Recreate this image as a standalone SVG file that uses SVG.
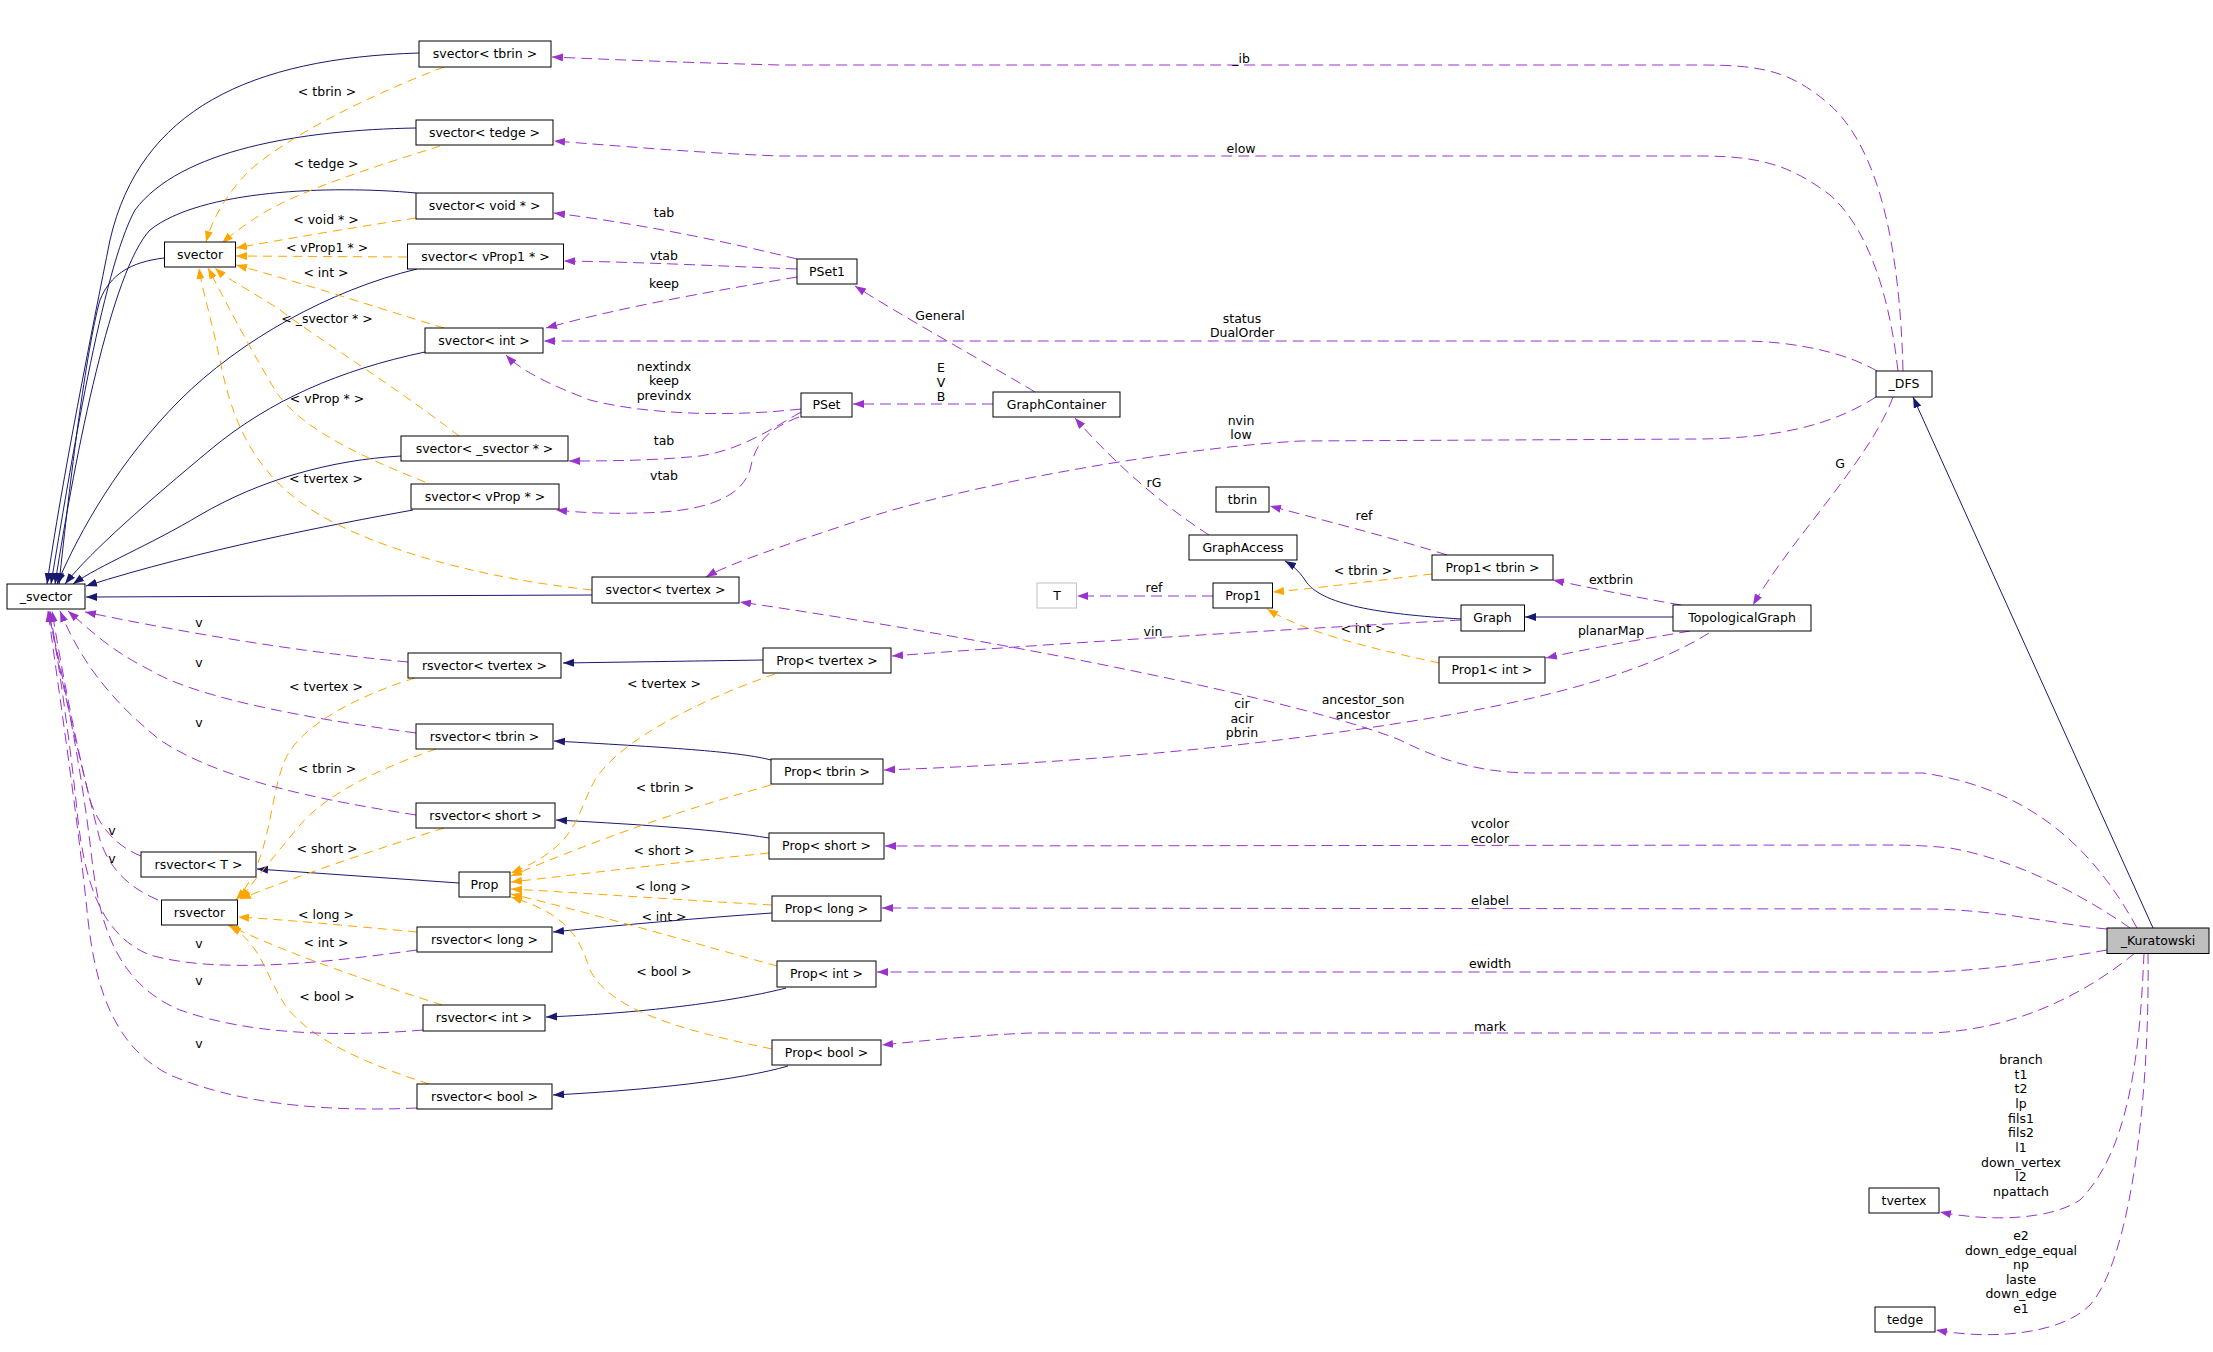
<svg xmlns="http://www.w3.org/2000/svg" width="2213" height="1352" viewBox="0 0 2213 1352">
<style>
.n rect{fill:#fff;stroke:#000;stroke-width:1}
.g rect{fill:#fff;stroke:#bfbfbf;stroke-width:1}
.k rect{fill:#bfbfbf;stroke:#000;stroke-width:1}
text{font-family:"DejaVu Sans",sans-serif;font-size:12.5px;fill:#000;text-anchor:middle}
.inh{fill:none;stroke:#191970;stroke-width:1;marker-end:url(#ab)}
.tpl{fill:none;stroke:#ffa500;stroke-width:1;stroke-dasharray:9,6;marker-end:url(#ao)}
.use{fill:none;stroke:#9a32cd;stroke-width:1;stroke-dasharray:11,6;marker-end:url(#ap)}
</style>
<defs>
<marker id="ab" markerUnits="userSpaceOnUse" markerWidth="12" markerHeight="9" refX="11" refY="4" orient="auto"><path d="M0,0 L11,4 L0,8 z" fill="#191970"/></marker>
<marker id="ao" markerUnits="userSpaceOnUse" markerWidth="12" markerHeight="9" refX="11" refY="4" orient="auto"><path d="M0,0 L11,4 L0,8 z" fill="#ffa500"/></marker>
<marker id="ap" markerUnits="userSpaceOnUse" markerWidth="12" markerHeight="9" refX="11" refY="4" orient="auto"><path d="M0,0 L11,4 L0,8 z" fill="#9a32cd"/></marker>
</defs>
<rect x="0" y="0" width="2213" height="1352" fill="#fff"/>
<g id="edges">
<path class="inh" d="M419,53 C250,58 140,110 110,240 C92,330 62,480 47,584"/>
<path class="inh" d="M416,128 C300,130 180,150 135,210 C102,270 70,470 51,584"/>
<path class="inh" d="M416,193 C330,185 200,190 150,230 C112,270 76,450 55,584"/>
<path class="inh" d="M164,258 C130,262 110,275 100,300 C86,350 70,480 59,584"/>
<path class="inh" d="M417,269 C330,290 240,340 180,400 C120,460 80,530 57,584"/>
<path class="inh" d="M425,352 C340,370 270,400 210,450 C150,500 92,550 65,584"/>
<path class="inh" d="M401,456 C330,460 260,480 200,515 C150,545 100,565 73,584"/>
<path class="inh" d="M413,510 C330,525 200,550 86,586"/>
<path class="inh" d="M592,595 L86,597"/>
<path class="inh" d="M763,660 L563,663"/>
<path class="inh" d="M771,760 C740,752 680,748 554,741"/>
<path class="inh" d="M769,838 C720,830 650,825 556,820"/>
<path class="inh" d="M772,913 C700,918 620,925 553,932"/>
<path class="inh" d="M786,988 C740,1000 650,1013 546,1017"/>
<path class="inh" d="M788,1066 C740,1080 650,1090 553,1095"/>
<path class="inh" d="M459,883 L257,869"/>
<path class="inh" d="M1461,619 C1380,614 1320,605 1305,580 C1299,571 1292,565 1285,561"/>
<path class="inh" d="M1673,617 L1525,617"/>
<path class="inh" d="M2153,928 L1913,397"/>
<path class="tpl" d="M444,67 C370,95 290,135 250,170 C225,195 212,220 206,242"/>
<path class="tpl" d="M440,146 C380,165 300,190 260,215 C240,228 230,236 222,243"/>
<path class="tpl" d="M416,218 C350,228 280,240 236,248"/>
<path class="tpl" d="M407,257 L236,256"/>
<path class="tpl" d="M444,328 C400,315 310,285 236,265"/>
<path class="tpl" d="M459,436 C400,390 320,340 280,310 C250,290 228,280 215,268"/>
<path class="tpl" d="M425,482 C370,460 300,430 275,390 C245,340 225,300 208,268"/>
<path class="tpl" d="M592,590 C480,578 380,550 320,515 C260,480 235,430 222,370 C212,320 202,290 199,268"/>
<path class="tpl" d="M415,678 C360,695 300,725 285,760 C268,800 272,860 236,900"/>
<path class="tpl" d="M436,749 C390,765 330,790 300,825 C275,855 255,880 240,899"/>
<path class="tpl" d="M444,828 C380,848 300,875 240,899"/>
<path class="tpl" d="M417,932 C350,926 290,920 238,917"/>
<path class="tpl" d="M442,1005 C380,985 290,955 228,925"/>
<path class="tpl" d="M429,1084 C370,1065 310,1040 285,1005 C265,975 262,945 230,926"/>
<path class="tpl" d="M775,674 C700,700 620,740 595,780 C575,815 580,845 511,873"/>
<path class="tpl" d="M771,785 C700,805 620,830 511,876"/>
<path class="tpl" d="M769,853 C680,862 600,872 511,882"/>
<path class="tpl" d="M772,905 C680,900 600,894 511,889"/>
<path class="tpl" d="M777,966 C700,945 600,915 511,894"/>
<path class="tpl" d="M772,1049 C680,1030 610,1010 590,970 C580,940 570,915 511,897"/>
<path class="tpl" d="M1432,574 C1380,580 1320,588 1273,592"/>
<path class="tpl" d="M1439,663 C1380,650 1310,635 1267,609"/>
<path class="use" d="M1903,371 C1900,250 1880,150 1830,105 C1790,70 1760,65 1700,65 L780,65 C700,63 620,60 552,57"/>
<path class="use" d="M1898,371 C1890,300 1870,230 1830,195 C1790,165 1760,156 1700,156 L780,156 C700,153 620,146 554,141"/>
<path class="use" d="M1877,371 C1850,355 1800,341 1740,341 L544,341"/>
<path class="use" d="M1876,397 C1840,420 1790,438 1700,439 L1300,441 C1150,450 950,490 860,520 C800,540 730,563 706,577"/>
<path class="use" d="M1893,397 C1870,460 1790,540 1753,605"/>
<path class="use" d="M797,259 C740,245 650,225 554,213"/>
<path class="use" d="M797,269 C720,266 640,262 564,261"/>
<path class="use" d="M797,277 C720,290 630,305 546,328"/>
<path class="use" d="M801,409 C720,418 640,413 590,400 C550,385 520,370 506,355"/>
<path class="use" d="M801,412 C770,430 740,450 700,456 C650,461 600,461 569,461"/>
<path class="use" d="M799,417 C765,430 755,445 750,470 C740,500 700,512 640,513 C600,514 575,512 556,510"/>
<path class="use" d="M1035,392 C990,365 900,315 855,286"/>
<path class="use" d="M993,404 L853,404"/>
<path class="use" d="M1209,535 C1170,510 1120,470 1075,418"/>
<path class="use" d="M1447,555 C1400,540 1330,522 1270,506"/>
<path class="use" d="M1213,596 L1077,596"/>
<path class="use" d="M1681,605 C1640,598 1600,590 1553,580"/>
<path class="use" d="M1690,631 C1650,638 1600,646 1546,658"/>
<path class="use" d="M1461,620 C1350,626 1100,640 892,656"/>
<path class="use" d="M1709,633 C1650,670 1550,700 1400,723 C1200,755 1000,766 884,770"/>
<path class="use" d="M2137,928 C2100,860 2040,790 1923,773 L1533,773 C1480,773 1440,760 1400,740 C1300,700 1000,640 740,602"/>
<path class="use" d="M2130,928 C2090,900 2020,860 1950,848 C1920,845 1900,845 1880,845 L885,846"/>
<path class="use" d="M2107,929 C2060,925 2000,910 1930,909 L882,908"/>
<path class="use" d="M2107,950 C2060,958 2000,970 1930,972 L877,972"/>
<path class="use" d="M2135,953 C2090,990 2020,1030 1930,1033 L1030,1033 C980,1035 930,1040 882,1045"/>
<path class="use" d="M2144,953 C2140,1050 2130,1150 2080,1200 C2050,1220 1990,1222 1940,1212"/>
<path class="use" d="M2148,953 C2150,1100 2130,1260 2090,1305 C2060,1335 1990,1340 1936,1330"/>
<path class="use" d="M408,662 C330,655 220,640 85,612"/>
<path class="use" d="M416,733 C320,720 200,700 150,670 C110,650 90,630 68,611"/>
<path class="use" d="M416,815 C320,800 220,780 160,740 C110,700 80,660 60,611"/>
<path class="use" d="M141,856 C120,848 100,830 90,800 C75,740 60,660 52,611"/>
<path class="use" d="M158,900 C130,888 110,870 100,840 C85,780 60,680 49,611"/>
<path class="use" d="M417,950 C330,962 220,975 150,955 C100,935 85,880 78,820 C70,740 58,660 50,611"/>
<path class="use" d="M423,1030 C340,1037 250,1035 180,1010 C120,985 100,930 92,860 C82,770 62,670 48,611"/>
<path class="use" d="M417,1108 C330,1112 240,1105 170,1075 C110,1045 95,980 88,920 C78,820 60,700 48,611"/>
</g>
<g id="edge-labels">
<text x="327" y="96">&lt; tbrin &gt;</text>
<text x="326" y="168">&lt; tedge &gt;</text>
<text x="326" y="224">&lt; void * &gt;</text>
<text x="327" y="252">&lt; vProp1 * &gt;</text>
<text x="326" y="277">&lt; int &gt;</text>
<text x="327" y="323">&lt; _svector * &gt;</text>
<text x="327" y="403">&lt; vProp * &gt;</text>
<text x="326" y="483">&lt; tvertex &gt;</text>
<text x="326" y="691">&lt; tvertex &gt;</text>
<text x="327" y="773">&lt; tbrin &gt;</text>
<text x="327" y="853">&lt; short &gt;</text>
<text x="326" y="919">&lt; long &gt;</text>
<text x="326" y="947">&lt; int &gt;</text>
<text x="327" y="1001">&lt; bool &gt;</text>
<text x="664" y="688">&lt; tvertex &gt;</text>
<text x="665" y="792">&lt; tbrin &gt;</text>
<text x="664" y="855">&lt; short &gt;</text>
<text x="663" y="891">&lt; long &gt;</text>
<text x="664" y="921">&lt; int &gt;</text>
<text x="664" y="976">&lt; bool &gt;</text>
<text x="1363" y="575">&lt; tbrin &gt;</text>
<text x="1363" y="633">&lt; int &gt;</text>
<text x="1241" y="63">_ib</text>
<text x="1241" y="153">elow</text>
<text x="1242" y="323">status</text>
<text x="1242" y="337">DualOrder</text>
<text x="1241" y="425">nvin</text>
<text x="1241" y="439">low</text>
<text x="1840" y="468">G</text>
<text x="664" y="217">tab</text>
<text x="664" y="260">vtab</text>
<text x="664" y="288">keep</text>
<text x="664" y="371">nextindx</text>
<text x="664" y="385">keep</text>
<text x="664" y="400">previndx</text>
<text x="664" y="445">tab</text>
<text x="664" y="480">vtab</text>
<text x="940" y="320">General</text>
<text x="941" y="372">E</text>
<text x="941" y="387">V</text>
<text x="941" y="401">B</text>
<text x="1154" y="487">rG</text>
<text x="1364" y="520">ref</text>
<text x="1154" y="592">ref</text>
<text x="1611" y="584">extbrin</text>
<text x="1611" y="635">planarMap</text>
<text x="1153" y="636">vin</text>
<text x="1242" y="708">cir</text>
<text x="1242" y="723">acir</text>
<text x="1242" y="737">pbrin</text>
<text x="1363" y="704">ancestor_son</text>
<text x="1363" y="719">ancestor</text>
<text x="1490" y="828">vcolor</text>
<text x="1490" y="843">ecolor</text>
<text x="1490" y="905">elabel</text>
<text x="1490" y="968">ewidth</text>
<text x="1490" y="1031">mark</text>
<text x="2021" y="1064">branch</text>
<text x="2021" y="1079">t1</text>
<text x="2021" y="1093">t2</text>
<text x="2021" y="1108">lp</text>
<text x="2021" y="1123">fils1</text>
<text x="2021" y="1137">fils2</text>
<text x="2021" y="1152">l1</text>
<text x="2021" y="1167">down_vertex</text>
<text x="2021" y="1181">l2</text>
<text x="2021" y="1196">npattach</text>
<text x="2021" y="1240">e2</text>
<text x="2021" y="1255">down_edge_equal</text>
<text x="2021" y="1269">np</text>
<text x="2021" y="1284">laste</text>
<text x="2021" y="1298">down_edge</text>
<text x="2021" y="1313">e1</text>
<text x="199" y="627">v</text>
<text x="199" y="667">v</text>
<text x="199" y="727">v</text>
<text x="112" y="835">v</text>
<text x="112" y="863">v</text>
<text x="199" y="948">v</text>
<text x="199" y="985">v</text>
<text x="199" y="1048">v</text>
</g>
<g id="n-svector-tbrin" class="n"><rect x="419" y="41" width="132" height="26"/><text x="485" y="58">svector&lt; tbrin &gt;</text></g>
<g id="n-svector-tedge" class="n"><rect x="416" y="120" width="137" height="25"/><text x="484.5" y="136.5">svector&lt; tedge &gt;</text></g>
<g id="n-svector-void" class="n"><rect x="416" y="193" width="137" height="26"/><text x="484.5" y="210">svector&lt; void * &gt;</text></g>
<g id="n-svector" class="n"><rect x="164.5" y="242" width="71" height="25"/><text x="200" y="258.5">svector</text></g>
<g id="n-svector-vProp1" class="n"><rect x="407.5" y="244" width="156" height="25"/><text x="485.5" y="260.5">svector&lt; vProp1 * &gt;</text></g>
<g id="n-svector-int" class="n"><rect x="425" y="328" width="118" height="25"/><text x="484" y="344.5">svector&lt; int &gt;</text></g>
<g id="n-svector-svector" class="n"><rect x="401" y="436" width="167" height="25"/><text x="484.5" y="452.5">svector&lt; _svector * &gt;</text></g>
<g id="n-svector-vProp" class="n"><rect x="411" y="484" width="148" height="25"/><text x="485" y="500.5">svector&lt; vProp * &gt;</text></g>
<g id="n-_svector" class="n"><rect x="7" y="584" width="78" height="25"/><text x="46" y="600.5">_svector</text></g>
<g id="n-svector-tvertex" class="n"><rect x="592" y="577" width="147" height="26"/><text x="665.5" y="594">svector&lt; tvertex &gt;</text></g>
<g id="n-rsvector-tvertex" class="n"><rect x="408" y="653" width="153" height="25"/><text x="484.5" y="669.5">rsvector&lt; tvertex &gt;</text></g>
<g id="n-rsvector-tbrin" class="n"><rect x="416" y="724" width="137" height="25"/><text x="484.5" y="740.5">rsvector&lt; tbrin &gt;</text></g>
<g id="n-rsvector-short" class="n"><rect x="416" y="803" width="139" height="25"/><text x="485.5" y="819.5">rsvector&lt; short &gt;</text></g>
<g id="n-rsvector-T" class="n"><rect x="141" y="852" width="115" height="25"/><text x="198.5" y="868.5">rsvector&lt; T &gt;</text></g>
<g id="n-Prop" class="n"><rect x="459" y="872" width="51" height="25"/><text x="484.5" y="888.5">Prop</text></g>
<g id="n-rsvector" class="n"><rect x="161.5" y="900" width="76" height="25"/><text x="199.5" y="916.5">rsvector</text></g>
<g id="n-rsvector-long" class="n"><rect x="417" y="927" width="135" height="25"/><text x="484.5" y="943.5">rsvector&lt; long &gt;</text></g>
<g id="n-rsvector-int" class="n"><rect x="423" y="1005" width="122" height="26"/><text x="484" y="1022">rsvector&lt; int &gt;</text></g>
<g id="n-rsvector-bool" class="n"><rect x="417" y="1084" width="135" height="25"/><text x="484.5" y="1100.5">rsvector&lt; bool &gt;</text></g>
<g id="n-PSet1" class="n"><rect x="797" y="259" width="60" height="25"/><text x="827" y="275.5">PSet1</text></g>
<g id="n-PSet" class="n"><rect x="801" y="393" width="51" height="24"/><text x="826.5" y="409">PSet</text></g>
<g id="n-Prop-tvertex" class="n"><rect x="763" y="648" width="128" height="25"/><text x="827" y="664.5">Prop&lt; tvertex &gt;</text></g>
<g id="n-Prop-tbrin" class="n"><rect x="771" y="759" width="112" height="25"/><text x="827" y="775.5">Prop&lt; tbrin &gt;</text></g>
<g id="n-Prop-short" class="n"><rect x="769" y="833" width="115" height="26"/><text x="826.5" y="850">Prop&lt; short &gt;</text></g>
<g id="n-Prop-long" class="n"><rect x="772" y="896" width="109" height="25"/><text x="826.5" y="912.5">Prop&lt; long &gt;</text></g>
<g id="n-Prop-int" class="n"><rect x="777" y="961" width="99" height="26"/><text x="826.5" y="978">Prop&lt; int &gt;</text></g>
<g id="n-Prop-bool" class="n"><rect x="772" y="1040" width="109" height="25"/><text x="826.5" y="1056.5">Prop&lt; bool &gt;</text></g>
<g id="n-GraphContainer" class="n"><rect x="993" y="392" width="127" height="25"/><text x="1056.5" y="408.5">GraphContainer</text></g>
<g id="n-tbrin" class="n"><rect x="1216" y="487" width="53" height="25"/><text x="1242.5" y="503.5">tbrin</text></g>
<g id="n-GraphAccess" class="n"><rect x="1189" y="535" width="108" height="25"/><text x="1243" y="551.5">GraphAccess</text></g>
<g id="n-Prop1-tbrin" class="n"><rect x="1432" y="555" width="121" height="25"/><text x="1492.5" y="571.5">Prop1&lt; tbrin &gt;</text></g>
<g id="n-T" class="g"><rect x="1037" y="583" width="39.5" height="25"/><text x="1057" y="599.5">T</text></g>
<g id="n-Prop1" class="n"><rect x="1213" y="583" width="59.5" height="25"/><text x="1243" y="599.5">Prop1</text></g>
<g id="n-Graph" class="n"><rect x="1461" y="605" width="63.5" height="26"/><text x="1492.5" y="622">Graph</text></g>
<g id="n-Prop1-int" class="n"><rect x="1439" y="657" width="106" height="26"/><text x="1492" y="674">Prop1&lt; int &gt;</text></g>
<g id="n-TopologicalGraph" class="n"><rect x="1673" y="605" width="138" height="26"/><text x="1742" y="622">TopologicalGraph</text></g>
<g id="n-_DFS" class="n"><rect x="1876" y="371" width="56" height="26"/><text x="1904" y="388">_DFS</text></g>
<g id="n-_Kuratowski" class="k"><rect x="2107" y="928" width="102" height="25.5"/><text x="2158" y="945">_Kuratowski</text></g>
<g id="n-tvertex" class="n"><rect x="1869" y="1188" width="70" height="25"/><text x="1904" y="1204.5">tvertex</text></g>
<g id="n-tedge" class="n"><rect x="1875" y="1307" width="60" height="25"/><text x="1905" y="1323.5">tedge</text></g>
</svg>
